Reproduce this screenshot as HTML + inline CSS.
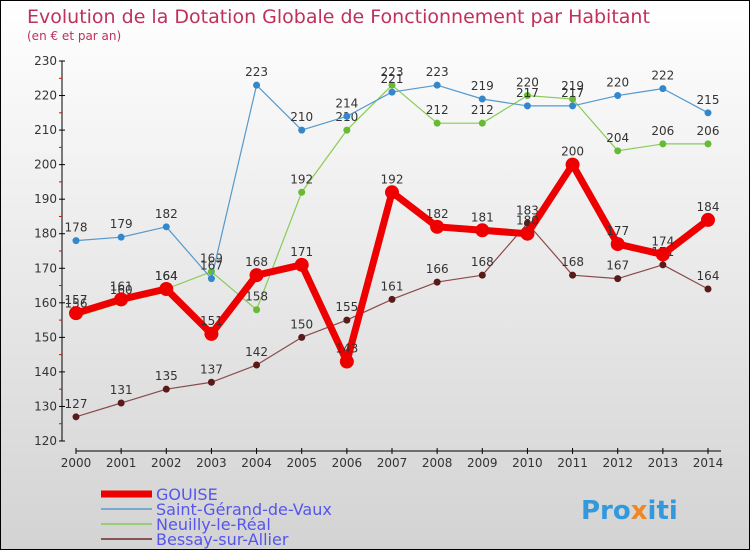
<!DOCTYPE html>
<html><head><meta charset="utf-8"><style>
body{margin:0}
#c{width:750px;height:550px;position:relative;background:linear-gradient(#fff,#d3d3d3);box-sizing:border-box;border:1px solid #000;overflow:hidden;font-family:"DejaVu Sans","Liberation Sans",sans-serif}
</style></head><body>
<div id="c">
<svg id="s" width="750" height="550" style="position:absolute;left:0;top:0">
<text x="26" y="22" font-size="19" fill="#c0305a">Evolution de la Dotation Globale de Fonctionnement par Habitant</text>
<text x="26" y="39" font-size="12" fill="#c0305a">(en € et par an)</text>
<g id="axes"></g><g id="series"></g><g id="legend"></g>
<text x="580" y="518" font-size="26" font-weight="bold" fill="#3399dd">Pro<tspan fill="#ee8822">x</tspan>iti</text>
</svg>
</div>
<script>
const years=[2000,2001,2002,2003,2004,2005,2006,2007,2008,2009,2010,2011,2012,2013,2014];
const yTicks=[120,130,140,150,160,170,180,190,200,210,220,230];
const gouise=[157,161,164,151,168,171,143,192,182,181,180,200,177,174,184];
const stGerand=[178,179,182,167,223,210,214,221,223,219,217,217,220,222,215];
const neuilly=[156,160,164,169,158,192,210,223,212,212,220,219,204,206,206];
const bessay=[127,131,135,137,142,150,155,161,166,168,183,168,167,171,164];
const NS="http://www.w3.org/2000/svg";
function X(i){return 75+i*(707-75)/14;}
function Y(v){return 440-(v-120)*380/110;}
function mk(t,a,p){const e=document.createElementNS(NS,t);for(const k in a)e.setAttribute(k,a[k]);p.appendChild(e);return e;}
const ax=document.getElementById('axes');
let e=mk('line',{x1:61,y1:60,x2:61,y2:440,stroke:'#000','stroke-width':1},ax);


e=mk('line',{x1:75,y1:450,x2:720,y2:450,stroke:'#000','stroke-width':1},ax);


yTicks.forEach((v,i)=>{
 mk('line',{x1:58,y1:Y(v),x2:64,y2:Y(v),stroke:'#000'},ax);
 if(i<yTicks.length-1)mk('line',{x1:58,y1:Y(v+5),x2:61,y2:Y(v+5),stroke:'#e00'},ax);
 const t=mk('text',{x:56,y:Y(v)+4,'text-anchor':'end','font-size':12,fill:'#333'},ax);t.textContent=v;
 
 
});
years.forEach((y,i)=>{
 mk('line',{x1:X(i),y1:447,x2:X(i),y2:453,stroke:'#000'},ax);
 const t=mk('text',{x:X(i),y:466,'text-anchor':'middle','font-size':12,fill:'#333'},ax);t.textContent=y;
 
 
});
const sg=document.getElementById('series');
function draw(d,col,dot,w,r,name){
 const g=mk('g',{},sg);
 
 
 mk('polyline',{points:d.map((v,i)=>X(i)+','+Y(v)).join(' '),fill:'none',stroke:col,'stroke-width':w,'stroke-linejoin':'round'},g);
 d.forEach((v,i)=>{
  const c=mk('circle',{cx:X(i),cy:Y(v),r:r,fill:dot},g);
  
  
  const t=mk('text',{x:X(i),y:Y(v)-9,'text-anchor':'middle','font-size':12,fill:'#333'},g);t.textContent=v;
 });
}
draw(bessay,'#8b4a4a','#5a1a1a',1.2,3.5,'series-bessay');
draw(neuilly,'#88cc55','#66bb33',1.2,3.5,'series-neuilly');
draw(stGerand,'#5599cc','#3388cc',1.2,3.5,'series-saint-gerand');
draw(gouise,'#ee0000','#ee0000',7,7,'series-gouise');
const lg=document.getElementById('legend');
const items=[['GOUISE','#ee0000',7],['Saint-Gérand-de-Vaux','#77aacc',2],['Neuilly-le-Réal','#99cc77',2],['Bessay-sur-Allier','#885555',2]];
items.forEach((it,i)=>{
 const y=493+i*15;
 const g=mk('g',{},lg);
 
 
 mk('line',{x1:100,y1:y,x2:151,y2:y,stroke:it[1],'stroke-width':it[2]},g);
 const t=mk('text',{x:155,y:y+6,'font-size':16,fill:'#5555ee'},g);t.textContent=it[0];
});
</script>
</body></html>
